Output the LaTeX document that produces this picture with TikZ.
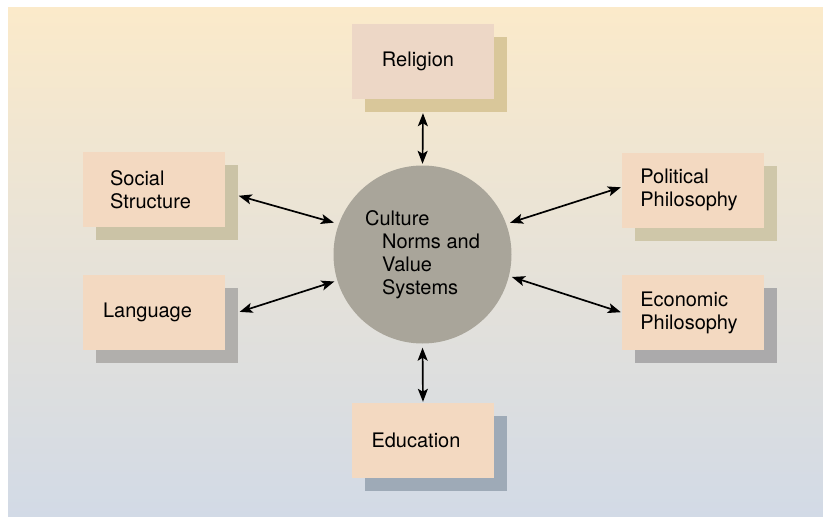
\documentclass[tikz,border=0pt]{standalone}
\usepackage{fontspec}
\setmainfont{TeX Gyre Heros}
\usetikzlibrary{arrows.meta}
\definecolor{bgtop}{HTML}{FBEACA}
\definecolor{bgmid}{HTML}{F0EBE4}
\definecolor{bgbot}{HTML}{D2DAE6}
\definecolor{boxfill}{HTML}{F3D9C1}
\definecolor{relfill}{HTML}{EDD7C6}
\definecolor{circfill}{HTML}{A9A59A}
\definecolor{shRel}{HTML}{D9C79A}
\definecolor{shSoc}{HTML}{CBC3A6}
\definecolor{shPol}{HTML}{CFC7A9}
\definecolor{shLang}{HTML}{B1AFAC}
\definecolor{shEco}{HTML}{ABAAAB}
\definecolor{shEdu}{HTML}{9EAAB7}
\tikzset{
  factor/.style={rectangle, fill=boxfill, minimum width=142pt, minimum height=75pt,
    inner sep=0pt, align=left, font=\fontsize{20}{23}\selectfont},
  shadowbox/.style={rectangle, minimum width=142pt, minimum height=75pt, inner sep=0pt},
  core/.style={circle, fill=circfill, minimum size=178pt, inner sep=0pt, align=left,
    font=\fontsize{20}{23}\selectfont},
  biarrow/.style={line width=1.7pt, black,
    arrows={Stealth[length=13pt,width=10pt,inset=3pt]-Stealth[length=13pt,width=10pt,inset=3pt]}}
}
\begin{document}
\begin{tikzpicture}[x=1pt,y=-1pt]
\useasboundingbox (0,0) rectangle (823,517);
\fill[white] (0,0) rectangle (823,517);
\shade[top color=bgtop, middle color=bgmid, bottom color=bgbot] (8,7) rectangle (823,517);

% shadows
\node[shadowbox, fill=shRel]  (relS)  at (436,74.5) {};
\node[shadowbox, fill=shSoc]  (socS)  at (166.5,202.5) {};
\node[shadowbox, fill=shLang] (langS) at (166.5,325.5) {};
\node[shadowbox, fill=shPol]  (polS)  at (706,203) {};
\node[shadowbox, fill=shEco]  (ecoS)  at (706,325.5) {};
\node[shadowbox, fill=shEdu]  (eduS)  at (436,453.5) {};

% boxes
\node[factor, fill=relfill] (rel)  at (423,61.5) {Religion\hspace*{10pt}};
\node[factor] (soc)  at (153.5,189.5) {Social\\Structure\hspace*{6pt}};
\node[factor] (lang) at (153.5,312.5) {Language\hspace*{12pt}};
\node[factor] (pol)  at (693,190) {Political\\Philosophy\hspace*{8pt}};
\node[factor] (eco)  at (693,312.5) {Economic\\Philosophy\hspace*{8pt}};
\node[factor] (edu)  at (423,440.5) {Education\hspace*{14pt}};

% centre
\node[core] (circ) at (422.5,254.5) {Culture\\\hspace*{17pt}Norms and\\\hspace*{17pt}Value\\\hspace*{17pt}Systems};

% connectors
\draw[biarrow, shorten <=1pt, shorten >=1.5pt] (rel.south |- relS.south) -- (circ.north);
\draw[biarrow, shorten <=4pt, shorten >=1pt] (circ.south) -- (edu.north);
\draw[biarrow, shorten <=1pt, shorten >=5pt] ([yshift=-6pt]soc.east -| socS.east) -- (circ.160);
\draw[biarrow, shorten <=2pt, shorten >=3pt] (lang.east -| langS.east) -- (circ.197);
\draw[biarrow, shorten <=4pt, shorten >=1pt] (circ.20) -- ([yshift=3pt]pol.west);
\draw[biarrow, shorten <=3pt, shorten >=1pt] (circ.-14) -- (eco.west);
\end{tikzpicture}
\end{document}
